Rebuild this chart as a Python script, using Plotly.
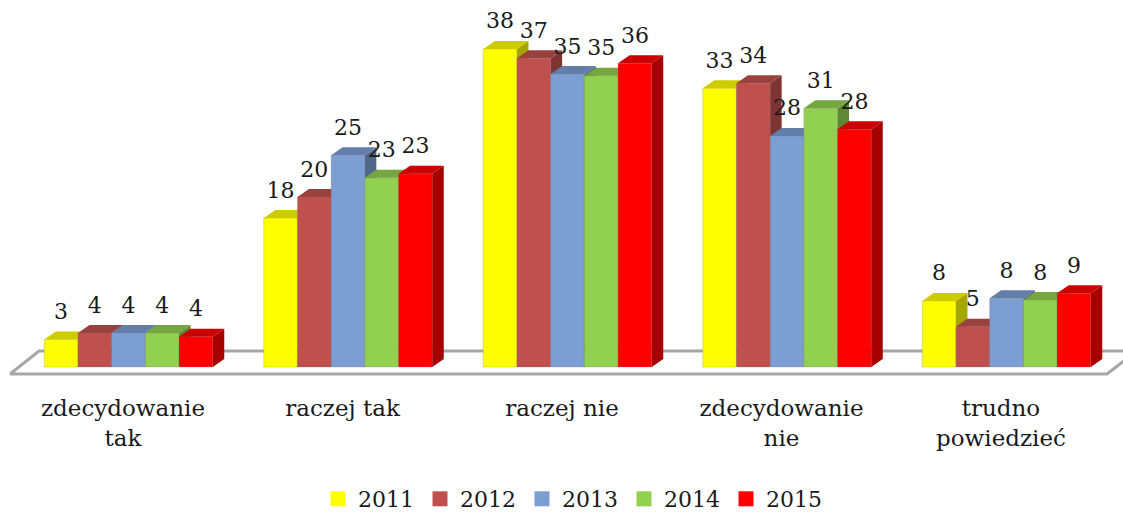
import plotly.graph_objects as go

categories = ["zdecydowanie<br>tak", "raczej tak", "raczej nie", "zdecydowanie<br>nie", "trudno<br>powiedzieć"]
years = ["2011", "2012", "2013", "2014", "2015"]
v2011 = [3.3, 17.8, 38.0, 33.3, 7.9]
v2012 = [4.06, 20.3, 36.9, 33.9, 4.8]
v2013 = [4.06, 25.3, 35.0, 27.6, 8.2]
v2014 = [4.06, 22.6, 34.8, 30.9, 8.0]
v2015 = [3.6, 23.1, 36.3, 28.4, 8.8]
series = [v2011, v2012, v2013, v2014, v2015]
colors = [(255, 255, 0), (192, 80, 77), (124, 158, 211), (146, 208, 80), (255, 0, 0)]

W, H, PLOT_BOTTOM = 1123, 513, 378
BASE_PX, UNIT_PX, GROUP_PX, FIRST_PX = 367, 8.37, 219.5, 128.5
bar_w = 33.7 / GROUP_PX
dx, dy = 11.5 / GROUP_PX, 8 / UNIT_PX
xr = [-FIRST_PX / GROUP_PX, (W - FIRST_PX) / GROUP_PX]
yr = [(BASE_PX - PLOT_BOTTOM) / UNIT_PX, BASE_PX / UNIT_PX]
FONT = "DejaVu Serif"
FONT_SIZE = 22
INK = "#1a1a1a"


def shade(c, f):
    return "rgb(%d,%d,%d)" % tuple(round(p * f) for p in c)


def px_x(p):
    return (p - FIRST_PX) / GROUP_PX


def px_y(p):
    return (BASE_PX - p) / UNIT_PX


fig = go.Figure()

# floor slab, behind everything
fig.add_trace(go.Scatter(
    x=[px_x(10), px_x(1107), px_x(1137), px_x(39), px_x(10)],
    y=[px_y(374), px_y(374), px_y(351), px_y(351), px_y(374)],
    mode="lines", line=dict(color="#a6a6a6", width=3), fill="toself",
    fillcolor="white", showlegend=False, hoverinfo="skip", xaxis="x", yaxis="y",
))

for k, (vals, col, year) in enumerate(zip(series, colors, years)):
    ax = str(k + 2)
    offset = (k - 2.5) * bar_w
    for i, v in enumerate(vals):
        l = i + offset
        r = l + bar_w
        fig.add_trace(go.Scatter(  # side face
            x=[r, r + dx, r + dx, r, r], y=[0, dy, v + dy, v, 0],
            mode="lines", line=dict(width=0), fill="toself", fillcolor=shade(col, 0.65),
            showlegend=False, hoverinfo="skip", xaxis="x" + ax, yaxis="y" + ax,
        ))
        fig.add_trace(go.Scatter(  # top face
            x=[l, r, r + dx, l + dx, l], y=[v, v, v + dy, v + dy, v],
            mode="lines", line=dict(width=0), fill="toself", fillcolor=shade(col, 0.8),
            showlegend=False, hoverinfo="skip", xaxis="x" + ax, yaxis="y" + ax,
        ))
    fig.add_trace(go.Bar(
        x=list(range(len(vals))), y=vals, width=bar_w, offset=offset,
        marker=dict(color=shade(col, 1), line=dict(color="rgba(120,120,120,0.35)", width=0.75)),
        showlegend=False, xaxis="x" + ax, yaxis="y" + ax,
    ))
    # legend entry
    fig.add_trace(go.Scatter(
        x=[None], y=[None], mode="markers", name=year,
        marker=dict(symbol="square", size=15, color=shade(col, 1)),
        xaxis="x" + ax, yaxis="y" + ax,
    ))

# value labels on the topmost axes
for k, vals in enumerate(series):
    offset = (k - 2) * bar_w
    fig.add_trace(go.Scatter(
        x=[i + offset for i in range(len(vals))],
        y=[v + 26 / UNIT_PX for v in vals],
        text=[str(round(v)) for v in vals],
        mode="text", textposition="middle center",
        textfont=dict(family=FONT, size=FONT_SIZE, color=INK),
        showlegend=False, hoverinfo="skip", xaxis="x7", yaxis="y7",
    ))

layout = dict(
    width=W, height=H, autosize=False,
    margin=dict(l=0, r=0, t=0, b=H - PLOT_BOTTOM, pad=0, autoexpand=False),
    paper_bgcolor="white", plot_bgcolor="rgba(0,0,0,0)",
    font=dict(family=FONT, size=FONT_SIZE, color=INK),
    showlegend=True,
    legend=dict(
        orientation="h", x=573 / W, xanchor="center", y=(PLOT_BOTTOM - 499) / PLOT_BOTTOM,
        yanchor="middle", entrywidth=57, entrywidthmode="pixels", itemwidth=30,
        font=dict(family=FONT, size=FONT_SIZE, color=INK), bgcolor="rgba(0,0,0,0)",
    ),
    xaxis=dict(
        range=xr, tickmode="array", tickvals=[i - 5.5 / GROUP_PX for i in range(len(categories))],
        ticktext=categories,
        showgrid=False, zeroline=False, showline=False, ticks="", ticklabelstandoff=14,
        tickfont=dict(family=FONT, size=23, color=INK), tickangle=0, fixedrange=True,
    ),
    yaxis=dict(range=yr, visible=False, fixedrange=True),
)
for n in range(2, 8):
    layout[f"xaxis{n}"] = dict(range=xr, overlaying="x", visible=False, fixedrange=True)
    layout[f"yaxis{n}"] = dict(range=yr, overlaying="y", visible=False, fixedrange=True)
fig.update_layout(**layout)
fig.write_html(
    "out.html", config=dict(displayModeBar=False),
    post_script="document.body.style.margin='0';document.documentElement.style.overflow='hidden';",
)
